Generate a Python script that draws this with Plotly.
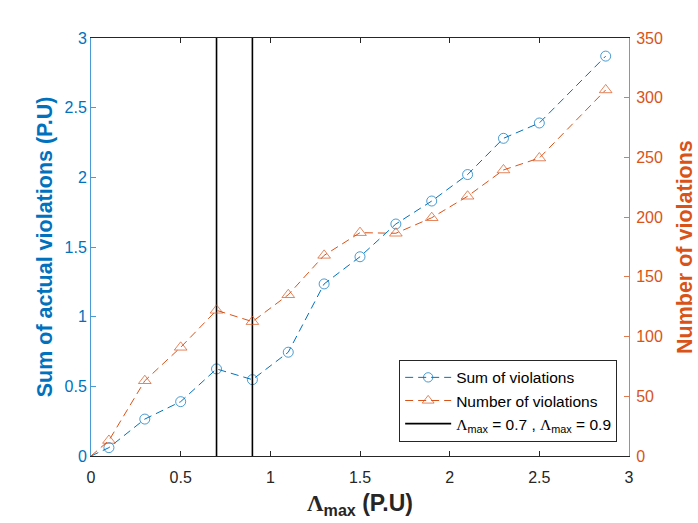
import plotly.graph_objects as go

# ---- data ----
lam = [0, 0.1, 0.3, 0.5, 0.7, 0.9, 1.1, 1.3, 1.5, 1.7, 1.9, 2.1, 2.3, 2.5, 2.87]
sum_viol = [0, 0.06, 0.265, 0.39, 0.625, 0.548, 0.745, 1.235, 1.43, 1.665, 1.83, 2.02, 2.28, 2.39, 2.87]
num_viol = [0, 13, 63, 91, 122, 112.5, 135, 168, 187, 186.5, 199.5, 217.5, 239.5, 249.5, 306.5]
lambda_marks = [0.7, 0.9]
x_ticks = [0, 0.5, 1, 1.5, 2, 2.5, 3]
y1_ticks = [0, 0.5, 1, 1.5, 2, 2.5, 3]
y2_ticks = [0, 50, 100, 150, 200, 250, 300, 350]

BLUE = "#0072BD"
ORANGE = "#D95319"
DARK = "#262626"
FONT = "Liberation Sans, Arial, Helvetica, sans-serif"

n = len(lam)

fig = go.Figure()
fig.add_trace(go.Scatter(
    x=lam, y=sum_viol, name="Sum of violations", mode="lines+markers",
    line=dict(color=BLUE, width=1, dash="8px,5px"),
    marker=dict(symbol="circle-open", size=[0] + [10] * (n - 1), color=BLUE,
                line=dict(width=1, color=BLUE)),
    yaxis="y", cliponaxis=False,
))
fig.add_trace(go.Scatter(
    x=lam, y=num_viol, name="Number of violations", mode="lines+markers",
    line=dict(color=ORANGE, width=1, dash="8px,5px"),
    marker=dict(symbol="triangle-up-open", size=[0] + [11] * (n - 1), color=ORANGE,
                line=dict(width=1, color=ORANGE)),
    yaxis="y2", cliponaxis=False,
))
vx, vy = [], []
for m in lambda_marks:
    vx += [m, m, None]
    vy += [y1_ticks[0], y1_ticks[-1], None]
fig.add_trace(go.Scatter(
    x=vx, y=vy,
    name="<span style='font-family:Liberation Serif'>Λ</span><sub>max</sub> = 0.7 , "
         "<span style='font-family:Liberation Serif'>Λ</span><sub>max</sub> = 0.9",
    mode="lines", line=dict(color="black", width=1.6), yaxis="y",
))

fig.update_layout(
    width=698, height=523,
    margin=dict(l=91, r=69, t=38, b=67),
    paper_bgcolor="white", plot_bgcolor="white",
    font=dict(family=FONT, size=16, color=DARK),
    showlegend=True,
    legend=dict(
        x=0.978, y=0.034, xanchor="right", yanchor="bottom",
        bgcolor="white", bordercolor=DARK, borderwidth=1,
        font=dict(family=FONT, size=15.5, color="black"),
        tracegroupgap=0, itemwidth=46,
    ),
    xaxis=dict(
        range=[0, 3], tickvals=x_ticks, ticktext=[f"{v:g}" for v in x_ticks],
        automargin=False,
        showgrid=False, zeroline=False, showline=True, linecolor=DARK, linewidth=1,
        mirror="ticks", ticks="inside", ticklen=5, tickcolor=DARK,
        tickfont=dict(size=16, color=DARK), ticklabelstandoff=7,
        title=dict(text="<b><span style='font-family:Liberation Serif'>Λ</span><sub>max</sub> (P.U)</b>",
                   font=dict(size=23, color=DARK), standoff=9),
    ),
    yaxis=dict(
        range=[0, 3], tickvals=y1_ticks, ticktext=[f"{v:g}" for v in y1_ticks],
        automargin=False,
        showgrid=False, zeroline=False, showline=True, linecolor="#4a9ad6", linewidth=1,
        ticks="inside", ticklen=5, tickcolor="#4a9ad6",
        tickfont=dict(size=16, color=BLUE),
        title=dict(text="<b>Sum of actual violations (P.U)</b>", font=dict(size=21.5, color=BLUE), standoff=6),
    ),
    yaxis2=dict(
        range=[0, 350], tickvals=y2_ticks, ticktext=[f"{v:g}" for v in y2_ticks],
        overlaying="y", side="right", automargin=False,
        showgrid=False, zeroline=False, showline=True, linecolor="#e07a4f", linewidth=1,
        ticks="inside", ticklen=5, tickcolor="#e07a4f",
        tickfont=dict(size=16, color=ORANGE), ticklabelstandoff=3,
    ),
    annotations=[dict(
        text="<b>Number of violations</b>", xref="paper", yref="paper",
        x=1, y=0.5, xanchor="center", yanchor="middle", xshift=56,
        textangle=-90, showarrow=False,
        font=dict(family=FONT, size=21.5, color=ORANGE),
    )],
)

fig.write_html(
    "out.html",
    config={"displayModeBar": False},
    post_script="document.body.style.margin='0';document.body.style.overflow='hidden';",
)
